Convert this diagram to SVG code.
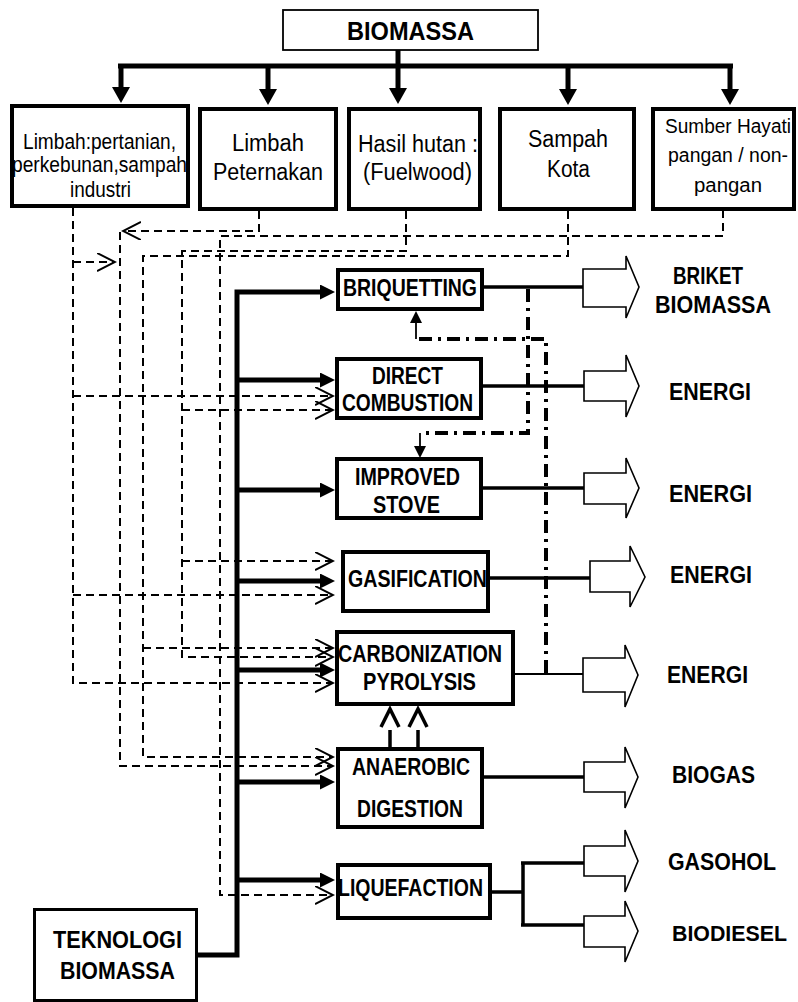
<svg xmlns="http://www.w3.org/2000/svg" width="798" height="1002" viewBox="0 0 798 1002">
<style>
.box{fill:#fff;stroke:#000;stroke-width:4}
.thinbox{fill:#fff;stroke:#000;stroke-width:1.8}
.tk{fill:#fff;stroke:#000;stroke-width:3}
.t{font-family:"Liberation Sans",Arial,sans-serif;font-size:23.5px;fill:#000}
.s21{font-size:22px}
.s19{font-size:19.5px}
.b{font-weight:bold;font-size:24px}
.r{font-weight:bold;font-size:24px}
.thick{stroke:#000;stroke-width:5;fill:none}
.dash{stroke:#000;stroke-width:2;fill:none;stroke-dasharray:8 5}
.dd{stroke:#000;stroke-width:4;fill:none;stroke-dasharray:13 6 3 6}
.out{stroke:#000;stroke-width:3.5;fill:none}
.thin{stroke:#000;stroke-width:1.8;fill:none}
.blk{fill:#fff;stroke:#000;stroke-width:1.6;stroke-linejoin:miter}
.up{stroke:#000;stroke-width:3.5;fill:none}
</style>
<defs>
<marker id="ah" markerUnits="userSpaceOnUse" markerWidth="16" markerHeight="16" refX="0" refY="7.5" orient="auto"><path d="M0,0 L15,7.5 L0,15 Z" fill="#000"/></marker>
<marker id="ahd" markerUnits="userSpaceOnUse" markerWidth="18" markerHeight="20" refX="0" refY="9" orient="auto"><path d="M0,0 L16,9 L0,18 Z" fill="#000"/></marker>
<marker id="ahs" markerUnits="userSpaceOnUse" markerWidth="14" markerHeight="14" refX="0" refY="6" orient="auto"><path d="M0,0 L12,6 L0,12 Z" fill="#000"/></marker>
<marker id="ch" markerUnits="userSpaceOnUse" markerWidth="20" markerHeight="20" refX="18" refY="9" orient="auto"><path d="M0,0 L18,9 L0,18" fill="none" stroke="#000" stroke-width="2"/></marker>
</defs>

<g id="connectors">
<!-- top distribution -->
<path class="thick" d="M118,66 H733"/>
<path class="thick" d="M398,50 V88" marker-end="url(#ahd)"/>
<path class="thick" d="M121,64 V87" marker-end="url(#ahd)"/>
<path class="thick" d="M268,64 V89" marker-end="url(#ahd)"/>
<path class="thick" d="M568,64 V89" marker-end="url(#ahd)"/>
<path class="thick" d="M730,64 V89" marker-end="url(#ahd)"/>
<!-- dashed source lines -->
<path class="dash" d="M73,208 V683 H333" marker-end="url(#ch)"/>
<path class="dash" d="M73,262 H115" marker-end="url(#ch)"/>
<path class="dash" d="M73,396 H333" marker-end="url(#ch)"/>
<path class="dash" d="M73,595 H333" marker-end="url(#ch)"/>
<path class="dash" d="M259,211 V231 H123" marker-end="url(#ch)"/>
<path class="dash" d="M120,232 V766 H333" marker-end="url(#ch)"/>
<path class="dash" d="M406,211 V251 H182 V657 H333" marker-end="url(#ch)"/>
<path class="dash" d="M182,410 H333" marker-end="url(#ch)"/>
<path class="dash" d="M182,561 H333" marker-end="url(#ch)"/>
<path class="dash" d="M568,211 V256 H143 V757 H333" marker-end="url(#ch)"/>
<path class="dash" d="M143,648 H333" marker-end="url(#ch)"/>
<path class="dash" d="M723,210 V236 H220 V895 H333" marker-end="url(#ch)"/>
<!-- technology trunk -->
<path class="thick" d="M198,955 H237 V292 H320" marker-end="url(#ah)"/>
<path class="thick" d="M237,380 H320" marker-end="url(#ah)"/>
<path class="thick" d="M237,490 H320" marker-end="url(#ah)"/>
<path class="thick" d="M237,581 H320" marker-end="url(#ah)"/>
<path class="thick" d="M237,670 H320" marker-end="url(#ah)"/>
<path class="thick" d="M237,782 H320" marker-end="url(#ah)"/>
<path class="thick" d="M237,880 H320" marker-end="url(#ah)"/>
<!-- outputs -->
<path class="out" d="M484,287 H584"/>
<path class="out" d="M483,386 H585"/>
<path class="out" d="M483,488 H585"/>
<path class="out" d="M490,578 H591"/>
<path class="thin" d="M515,674 H584"/>
<path class="out" d="M484,777 H585"/>
<path class="out" d="M492,892 H523 M523,862 V926 M521,863 H585 M521,925 H585"/>
<!-- dash-dot recycle lines -->
<path class="dd" d="M528,289 V433 H420"/>
<path class="thin" d="M420,433 V446" marker-end="url(#ahs)"/>
<path class="dd" d="M546,673 V339 H416"/>
<path class="thin" d="M416,339 V323" marker-end="url(#ahs)"/>
<!-- anaerobic to carbonization -->
<path class="up" d="M390,747 V730 M381,727 L390,709 L399,727"/>
<path class="up" d="M418,747 V730 M409,727 L418,709 L427,727"/>
<!-- block arrows -->
<polygon class="blk" points="583,269 626,269 626,256 639,287 626,318 626,307 583,307"/>
<polygon class="blk" points="584,371 626,371 626,355 639,386 626,417 626,401 584,401"/>
<polygon class="blk" points="584,473 626,473 626,458 639,488 626,518 626,504 584,504"/>
<polygon class="blk" points="590,561 630,561 630,546 645,577 630,607 630,592 590,592"/>
<polygon class="blk" points="583,658 625,658 625,645 638,675 625,707 625,692 583,692"/>
<polygon class="blk" points="584,762 625,762 625,747 638,777 625,808 625,792 584,792"/>
<polygon class="blk" points="584,846 625,846 625,830 638,861 625,892 625,876 584,876"/>
<polygon class="blk" points="584,916 625,916 625,901 638,931 625,962 625,947 584,947"/>
</g>

<g id="biomassa">
<rect class="thinbox" x="283" y="10" width="255" height="40"/>
<text class="t r" x="347" y="40" textLength="127" lengthAdjust="spacingAndGlyphs" style="font-size:25px">BIOMASSA</text>
</g>

<g id="limbah-pertanian">
<rect class="box" x="12" y="106" width="176" height="100"/>
<text class="t s21" x="23" y="149" textLength="153" lengthAdjust="spacingAndGlyphs">Limbah:pertanian,</text>
<text class="t s21" x="12" y="172" textLength="175" lengthAdjust="spacingAndGlyphs">perkebunan,sampah</text>
<text class="t s21" x="70" y="197" textLength="61" lengthAdjust="spacingAndGlyphs">industri</text>
</g>

<g id="limbah-peternakan">
<rect class="box" x="200" y="109" width="136" height="100"/>
<text class="t" x="232" y="151" textLength="72" lengthAdjust="spacingAndGlyphs">Limbah</text>
<text class="t" x="213" y="180" textLength="110" lengthAdjust="spacingAndGlyphs">Peternakan</text>
</g>

<g id="hasil-hutan">
<rect class="box" x="349" y="109" width="131" height="100"/>
<text class="t" x="358" y="152" textLength="120" lengthAdjust="spacingAndGlyphs">Hasil hutan :</text>
<text class="t" x="363" y="180" textLength="109" lengthAdjust="spacingAndGlyphs">(Fuelwood)</text>
</g>

<g id="sampah-kota">
<rect class="box" x="500" y="109" width="134" height="100"/>
<text class="t" x="528" y="147" textLength="80" lengthAdjust="spacingAndGlyphs">Sampah</text>
<text class="t" x="547" y="177" textLength="43" lengthAdjust="spacingAndGlyphs">Kota</text>
</g>

<g id="sumber-hayati">
<rect class="box" x="653" y="109" width="141" height="100"/>
<text class="t s19" x="665" y="133" textLength="126" lengthAdjust="spacingAndGlyphs">Sumber Hayati</text>
<text class="t s19" x="668" y="162" textLength="120" lengthAdjust="spacingAndGlyphs">pangan / non-</text>
<text class="t s19" x="694" y="192" textLength="68" lengthAdjust="spacingAndGlyphs">pangan</text>
</g>

<g id="briquetting">
<rect class="box" x="338" y="270" width="144" height="39"/>
<text class="t b" x="343" y="296" textLength="134" lengthAdjust="spacingAndGlyphs">BRIQUETTING</text>
</g>

<g id="direct-combustion">
<rect class="box" x="337" y="359" width="144" height="59"/>
<text class="t b" x="372" y="384" textLength="71" lengthAdjust="spacingAndGlyphs">DIRECT</text>
<text class="t b" x="342" y="411" textLength="131" lengthAdjust="spacingAndGlyphs">COMBUSTION</text>
</g>

<g id="improved-stove">
<rect class="box" x="337" y="459" width="144" height="59"/>
<text class="t b" x="355" y="485" textLength="105" lengthAdjust="spacingAndGlyphs">IMPROVED</text>
<text class="t b" x="373" y="513" textLength="67" lengthAdjust="spacingAndGlyphs">STOVE</text>
</g>

<g id="gasification">
<rect class="box" x="343" y="552" width="145" height="59"/>
<text class="t b" x="348" y="587" textLength="139" lengthAdjust="spacingAndGlyphs">GASIFICATION</text>
</g>

<g id="carbonization">
<rect class="box" x="337" y="632" width="176" height="72"/>
<text class="t b" x="338" y="662" textLength="164" lengthAdjust="spacingAndGlyphs">CARBONIZATION</text>
<text class="t b" x="363" y="690" textLength="113" lengthAdjust="spacingAndGlyphs">PYROLYSIS</text>
</g>

<g id="anaerobic">
<rect class="box" x="338" y="749" width="144" height="78"/>
<text class="t b" x="352" y="775" textLength="118" lengthAdjust="spacingAndGlyphs">ANAEROBIC</text>
<text class="t b" x="357" y="817" textLength="106" lengthAdjust="spacingAndGlyphs">DIGESTION</text>
</g>

<g id="liquefaction">
<rect class="box" x="338" y="865" width="152" height="53"/>
<text class="t b" x="338" y="896" textLength="145" lengthAdjust="spacingAndGlyphs">LIQUEFACTION</text>
</g>

<g id="teknologi">
<rect class="tk" x="34.5" y="909.5" width="162" height="91"/>
<text class="t b" x="53" y="948" textLength="129" lengthAdjust="spacingAndGlyphs">TEKNOLOGI</text>
<text class="t b" x="60" y="979" textLength="115" lengthAdjust="spacingAndGlyphs">BIOMASSA</text>
</g>

<g id="outputs">
<text class="t r" x="673" y="284" textLength="70" lengthAdjust="spacingAndGlyphs">BRIKET</text>
<text class="t r" x="655" y="313" textLength="116" lengthAdjust="spacingAndGlyphs">BIOMASSA</text>
<text class="t r" x="669" y="400" textLength="82" lengthAdjust="spacingAndGlyphs">ENERGI</text>
<text class="t r" x="669" y="502" textLength="83" lengthAdjust="spacingAndGlyphs">ENERGI</text>
<text class="t r" x="670" y="583" textLength="82" lengthAdjust="spacingAndGlyphs">ENERGI</text>
<text class="t r" x="667" y="683" textLength="81" lengthAdjust="spacingAndGlyphs">ENERGI</text>
<text class="t r" x="672" y="783" textLength="83" lengthAdjust="spacingAndGlyphs">BIOGAS</text>
<text class="t r" x="668" y="870" textLength="108" lengthAdjust="spacingAndGlyphs">GASOHOL</text>
<text class="t r" x="672" y="941" textLength="115" lengthAdjust="spacingAndGlyphs" style="font-size:22px">BIODIESEL</text>
</g>
</svg>
